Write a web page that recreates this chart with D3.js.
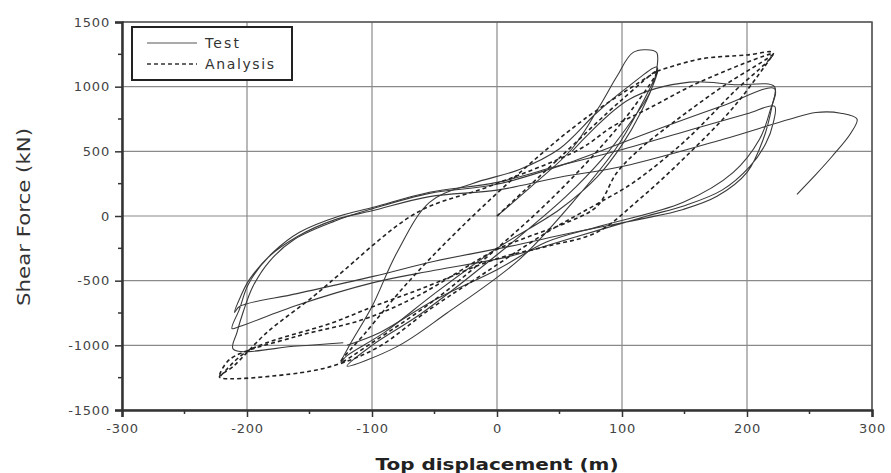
<!DOCTYPE html>
<html>
<head>
<meta charset="utf-8">
<script src="https://cdn.jsdelivr.net/npm/d3@7"></script>
<style>
  body { margin: 0; background: #fff; }
  text { font-family: "DejaVu Sans", Arial, sans-serif; }
</style>
</head>
<body>
<script>
// values (displacement mm, shear kN)
const xTicks = [-300, -200, -100, 0, 100, 200, 300];
const yTicks = [-1500, -1000, -500, 0, 500, 1000, 1500];

// Test - small cycles
const testSmall = [[0,0],[30,250],[60,520],[82,848],[96,1080],[109,1265],[125,1280],[128,1260],[126,1050],[115,800],[100,550],[80,300],[50,50],[0,-250],[-50,-600],[-90,-900],[-120,-1080],[-125,-1130],[-118,-1000],[-100,-700],[-80,-282],[-54,105],[-20,250],[18,360],[50,520],[80,800],[105,1000],[128,1150],[122,950],[105,700],[85,450],[55,150],[0,-300],[-60,-750],[-100,-1000],[-120,-1160],[-80,-1010],[-40,-750],[18,-335],[60,100],[95,520],[115,850],[128,1100]];

// Test - large cycles
const testLarge1 = [[60,500],[106,903],[154,1035],[190,1015],[222,1000],[220,850],[213,593],[200,337],[176,152],[149,51],[114,-26],[60,-130],[10,-235],[-50,-350],[-99,-467],[-160,-600],[-206,-700],[-210,-745],[-205,-620],[-198,-490],[-179,-280],[-158,-126],[-126,0],[-99,67],[-54,183],[0,260],[50,390],[101,516],[160,680],[200,790],[222,849],[221,720],[215,560],[202,380],[180,200],[150,80],[120,0],[60,-170],[10,-312],[-50,-420],[-99,-515],[-160,-690],[-206,-855],[-212,-870],[-206,-720],[-199,-530],[-183,-320],[-160,-160],[-130,-30],[-100,40],[-54,150],[0,200],[50,300],[101,384],[181,593],[234,748],[255,800],[275,795],[288,750],[283,640],[268,460],[255,320],[240,168]];

const testLarge2 = [[-123,-980],[-160,-1005],[-211,-1030],[-208,-900],[-203,-740],[-195,-540],[-182,-350],[-162,-180],[-130,-40],[-100,55],[-54,175],[0,245],[60,420],[120,640],[180,850],[222,985],[218,800],[210,593],[189,337],[149,106],[82,-80],[40,-200],[0,-415],[-50,-650],[-94,-903],[-120,-1000]];

// Analysis
const anaSmall = [[0,0],[50,450],[100,900],[128,1120],[110,850],[80,500],[40,100],[0,-250],[-50,-650],[-100,-980],[-125,-1130],[-105,-900],[-70,-500],[-30,-100],[20,350],[70,750],[128,1120]];

const anaLarge = [[128,1120],[162,1213],[200,1245],[221,1262],[189,955],[149,568],[109,258],[82,104],[40,-126],[-14,-467],[-54,-723],[-94,-1008],[-125,-1140],[-158,-1213],[-222,-1245],[-211,-1163],[-184,-900],[-147,-623],[-128,-467],[-64,27],[-6,230],[66,516],[93,695],[120,825],[162,1035],[221,1255],[181,1004],[141,723],[114,516],[96,337],[80,75],[56,-50],[26,-157],[0,-258],[-64,-620],[-107,-800],[-160,-930],[-214,-1110],[-222,-1240],[-200,-1047],[-131,-823],[-99,-700],[-60,-560],[0,-330],[40,-234],[80,-126],[114,130],[150,450],[190,850],[221,1250]];

const testSeries = [testSmall, testLarge1, testLarge2];
const anaSeries = [anaSmall, anaLarge];

const svg = d3.select('body')
              .append('svg')
              .attr('width', 891)
              .attr('height', 473);

const x = d3.scaleLinear().domain([-300, 300]).range([122, 872]);
const y = d3.scaleLinear().domain([-1500, 1500]).range([410, 22]);

// grid
svg.append('g')
   .selectAll('line')
   .data(xTicks)
   .join('line')
   .attr('x1', d => x(d)).attr('x2', d => x(d))
   .attr('y1', y(1500)).attr('y2', y(-1500))
   .attr('stroke', '#8a8a8a').attr('stroke-width', 1.2);

svg.append('g')
   .selectAll('line')
   .data(yTicks)
   .join('line')
   .attr('x1', x(-300)).attr('x2', x(300))
   .attr('y1', d => y(d)).attr('y2', d => y(d))
   .attr('stroke', '#8a8a8a').attr('stroke-width', 1.2);

// frame top/right
svg.append('path')
   .attr('d', `M${x(-300)},${y(1500)}H${x(300)}V${y(-1500)}`)
   .attr('fill', 'none').attr('stroke', '#555').attr('stroke-width', 1.5);

// axes (plain hyphen minus, no thousands comma)
const fmt = d => String(d);
const xAxis = d3.axisBottom(x).tickValues(xTicks).tickFormat(fmt).tickSize(7).tickPadding(7);
const yAxis = d3.axisLeft(y).tickValues(yTicks).tickFormat(fmt).tickSize(7).tickPadding(5);

const gx = svg.append('g').attr('transform', `translate(0,${y(-1500)})`).call(xAxis);
const gy = svg.append('g').attr('transform', `translate(${x(-300)},0)`).call(yAxis);

// minor ticks
gx.selectAll('.minor')
  .data(d3.range(-250, 300, 100))
  .join('line')
  .attr('class', 'minor')
  .attr('x1', d => x(d)).attr('x2', d => x(d))
  .attr('y1', 0).attr('y2', 4)
  .attr('stroke', '#333').attr('stroke-width', 1.5);

gy.selectAll('.minor')
  .data(d3.range(-1250, 1500, 500))
  .join('line')
  .attr('class', 'minor')
  .attr('x1', 0).attr('x2', -4)
  .attr('y1', d => y(d)).attr('y2', d => y(d))
  .attr('stroke', '#333').attr('stroke-width', 1.5);

[gx, gy].forEach(g => {
  g.select('.domain').attr('stroke', '#333').attr('stroke-width', 2.5);
  g.selectAll('.tick line').attr('stroke', '#333').attr('stroke-width', 1.5);
  g.selectAll('.tick text').attr('font-size', 13).attr('fill', '#444')
   .attr('letter-spacing', 0.8)
   .attr('font-family', '"DejaVu Sans", Arial, sans-serif');
});

// curves
const line = d3.line()
               .x(d => x(d[0]))
               .y(d => y(d[1]))
               .curve(d3.curveCatmullRom.alpha(0.5));

svg.append('g')
   .selectAll('path')
   .data(testSeries)
   .join('path')
   .attr('d', line)
   .attr('fill', 'none')
   .attr('stroke', '#3a3a3a')
   .attr('stroke-width', 1.1);

svg.append('g')
   .selectAll('path')
   .data(anaSeries)
   .join('path')
   .attr('d', line)
   .attr('fill', 'none')
   .attr('stroke', '#222')
   .attr('stroke-width', 1.6)
   .attr('stroke-dasharray', '4,3');

// legend
const lg = svg.append('g');
lg.append('rect')
  .attr('x', 132).attr('y', 27).attr('width', 160).attr('height', 53)
  .attr('fill', '#fff').attr('stroke', '#222').attr('stroke-width', 2);
lg.append('line').attr('x1', 147).attr('x2', 197).attr('y1', 43).attr('y2', 43)
  .attr('stroke', '#555').attr('stroke-width', 1);
lg.append('line').attr('x1', 147).attr('x2', 197).attr('y1', 64).attr('y2', 64)
  .attr('stroke', '#333').attr('stroke-width', 1.3).attr('stroke-dasharray', '4,3');
lg.append('text').attr('x', 205).attr('y', 48).attr('font-size', 14).attr('fill', '#333')
  .attr('textLength', 34).text('Test');
lg.append('text').attr('x', 205).attr('y', 69).attr('font-size', 14).attr('fill', '#333')
  .attr('textLength', 69).text('Analysis');

// axis titles
svg.append('text')
   .attr('x', 497).attr('y', 470)
   .attr('text-anchor', 'middle')
   .attr('font-size', 16).attr('font-weight', 'bold').attr('fill', '#222')
   .attr('textLength', 243).attr('lengthAdjust', 'spacingAndGlyphs')
   .text('Top displacement (m)');

svg.append('text')
   .attr('transform', `translate(30,217) rotate(-90)`)
   .attr('text-anchor', 'middle')
   .attr('font-size', 17).attr('fill', '#333')
   .attr('textLength', 178).attr('lengthAdjust', 'spacingAndGlyphs')
   .text('Shear Force (kN)');
</script>
</body>
</html>
